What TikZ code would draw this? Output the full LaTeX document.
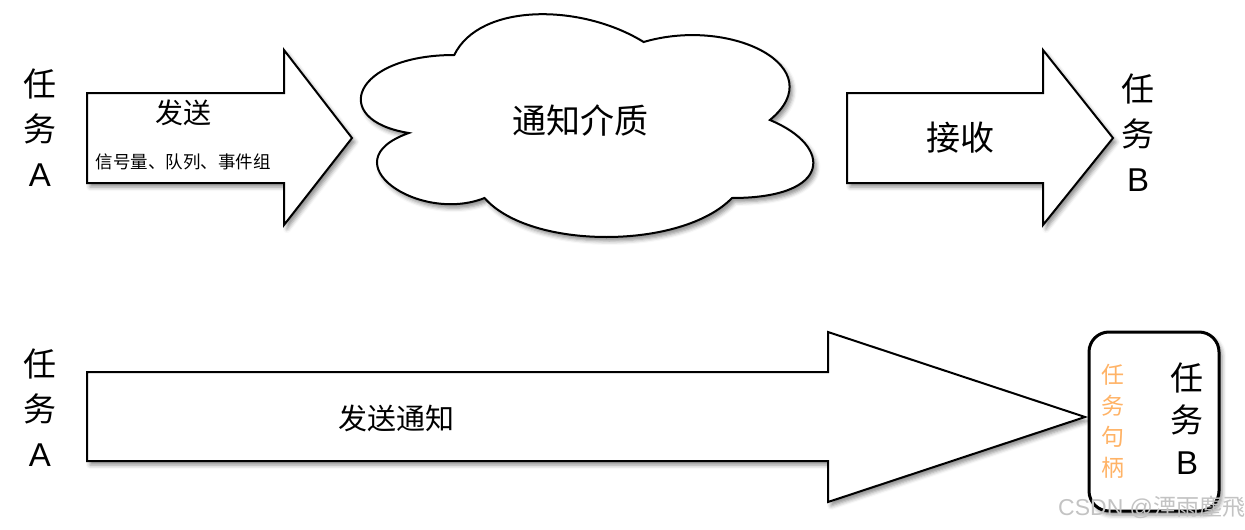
\documentclass[tikz,border=0pt]{standalone}
\usepackage{fontspec}
\setmainfont{Noto Sans CJK SC}
\newfontfamily\latinsans{Liberation Sans}
\usetikzlibrary{shadows.blur}
\begin{document}
\begin{tikzpicture}[x=1pt,y=-1pt,
  shad/.style={blur shadow={shadow xshift=3pt,shadow yshift=-4pt,shadow blur radius=4pt,shadow opacity=45}},
  shapeline/.style={draw=black,line width=2pt,fill=white,line join=miter,shad},
  lbl/.style={inner sep=0pt,text=black},
  vtask/.style={lbl,align=center,font=\fontsize{33}{45}\selectfont},
  handle/.style={lbl,align=center,text={rgb,255:red,255;green,179;blue,102},font=\fontsize{23}{31}\selectfont}
]
\useasboundingbox (0,0) rectangle (1245,530);

% ---- top row ----
\node[vtask] (ta1) at (40,128) {任\\务\\{\latinsans A}};

\draw[shapeline] (87,93) -- (284,93) -- (284,50) -- (352,138) -- (284,225) -- (284,183) -- (87,183) -- cycle;
\node[lbl,font=\fontsize{28}{28}\selectfont] (send) at (183,113) {发送};
\node[lbl,font=\fontsize{17.5}{18}\selectfont] (kinds) at (183,162) {信号量、队列、事件组};

% cloud (draw.io cloud geometry)
\begin{scope}[shift={(328,-10)},x=505pt,y=-260pt]
\draw[shapeline] (0.25,0.25)
  .. controls (0.05,0.25) and (0,0.5) .. (0.16,0.55)
  .. controls (0,0.66) and (0.18,0.9) .. (0.31,0.8)
  .. controls (0.4,1) and (0.7,1) .. (0.8,0.8)
  .. controls (1,0.8) and (1,0.6) .. (0.875,0.5)
  .. controls (1,0.3) and (0.8,0.1) .. (0.625,0.2)
  .. controls (0.5,0.05) and (0.3,0.05) .. (0.25,0.25) -- cycle;
\end{scope}
\node[lbl,font=\fontsize{34}{34}\selectfont] (medium) at (580,120) {通知介质};

\draw[shapeline] (847,93) -- (1043,93) -- (1043,50) -- (1113,138) -- (1043,225) -- (1043,183) -- (847,183) -- cycle;
\node[lbl,font=\fontsize{34}{34}\selectfont] (recv) at (960,138) {接收};

\node[vtask] (tb1) at (1138,133) {任\\务\\{\latinsans B}};

% ---- bottom row ----
\node[vtask] (ta2) at (40,408) {任\\务\\{\latinsans A}};

\draw[shapeline] (87,372) -- (828,372) -- (828,332) -- (1085,417) -- (828,502) -- (828,461) -- (87,461) -- cycle;
\node[lbl,font=\fontsize{29}{29}\selectfont] (notify) at (396,418) {发送通知};

\node[draw=black,line width=3pt,fill=white,rounded corners=20pt,shad,
      minimum width=130pt,minimum height=179pt,inner sep=0pt] (tbbox) at (1154,421.5) {};
\node[handle] (hdl) at (1113,421) {任\\务\\句\\柄};
\node[vtask,font=\fontsize{33}{42}\selectfont] (tb2) at (1187,419) {任\\务\\{\latinsans B}};

% watermark
\node[lbl,anchor=west,text={rgb,255:red,195;green,195;blue,195},font=\fontsize{23}{23}\selectfont] (wm) at (1058,507) {{\latinsans CSDN @}湮雨塵飛};
\end{tikzpicture}
\end{document}
